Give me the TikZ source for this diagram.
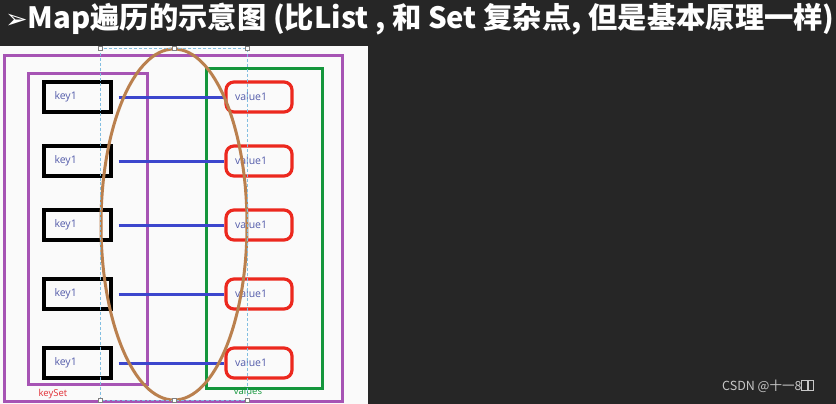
\documentclass[tikz,border=0pt]{standalone}
\usepackage{fontspec}
\setsansfont{Open Sans}
\newfontfamily\cjk{Noto Sans CJK SC}
\newfontfamily\symb{DejaVu Sans}
\usetikzlibrary{shapes.geometric}
\definecolor{board}{RGB}{38,38,38}
\definecolor{paper}{RGB}{250,250,250}
\definecolor{mapviolet}{RGB}{166,84,180}
\definecolor{valgreen}{RGB}{20,150,60}
\definecolor{valred}{RGB}{236,40,30}
\definecolor{inkblue}{RGB}{84,92,170}
\definecolor{linkblue}{RGB}{60,70,205}
\definecolor{loopbrown}{RGB}{186,128,78}
\definecolor{guide}{RGB}{130,190,225}
\newcommand{\tofu}{{\setlength{\fboxrule}{0.6bp}\setlength{\fboxsep}{0pt}\fbox{\rule{0pt}{10bp}\hspace{5bp}}}}

\begin{document}
\begin{tikzpicture}[
  keybox/.style={draw, line width=3.4bp, minimum width=67bp, minimum height=30bp,
    text width=46bp, align=left, inner xsep=6bp, text=inkblue, font=\sffamily\fontsize{10.5bp}{12bp}\selectfont},
  valbox/.style={draw=valred, line width=3.2bp, rounded corners=8bp, minimum width=66bp, minimum height=30bp,
    text width=48bp, align=left, inner xsep=7bp, text=inkblue, font=\sffamily\fontsize{10.5bp}{12bp}\selectfont},
  frame/.style={draw, line width=3bp, minimum width=#1},
  link/.style={linkblue, line width=3bp, shorten <=6bp},
  handle/.style={draw=gray, fill=white, line width=0.5bp, minimum size=4bp, inner sep=0pt}
]
\useasboundingbox (0,0) rectangle (836bp,-404bp);
\fill [board] (0,0) rectangle (836bp,-404bp);
\fill [paper] (0,-46bp) rectangle (368bp,-404bp);

\node (title) at (5bp,-19bp)[anchor=west, text=white, inner sep=0pt] {\fontsize{29.3bp}{32bp}\selectfont{\symb\fontsize{27bp}{29bp}\selectfont ➢}\cjk\bfseries Map遍历的示意图 (比List , 和 Set 复杂点, 但是基本原理一样)};

\node (map) at (173bp,-228bp)[frame=338bp, draw=mapviolet, minimum height=346bp] {};
\node (keyset) at (87.5bp,-228.5bp)[frame=119bp, draw=mapviolet, minimum height=311bp] {};
\node (values) at (264bp,-228bp)[frame=116bp, draw=valgreen, minimum height=320bp] {};

\foreach \i/\y in {1/97,2/161,3/225,4/294,5/363}{
  \node (k\i) at (77.5bp,-\y bp)[keybox] {key1};
  \node (v\i) at (259bp,-\y bp)[valbox] {value1};
  \draw [link] (k\i) -- (v\i);
}

\node (keysetlabel) at (53bp,-394bp)[text=valred!85!mapviolet, font=\sffamily\fontsize{9.5bp}{11bp}\selectfont] {keySet};
\node (valueslabel) at (248bp,-391bp)[text=valgreen, font=\sffamily\fontsize{9.5bp}{11bp}\selectfont] {values};

\node (loop) at (174bp,-224.5bp)[ellipse, draw=loopbrown, line width=3bp, minimum width=146bp, minimum height=351bp] {};

% selection guides round the loop
\draw [guide, densely dashed, line width=0.6bp] (100bp,-48bp) rectangle (247bp,-400bp);
\foreach \n/\x/\y in {1/100/48,2/174/48,3/247/48,4/100/400,5/174/400,6/247/400}
  \node (h\n) at (\x bp,-\y bp)[handle] {};

\node (mark) at (768bp,-386bp)[text=white!78!black, font=\cjk\fontsize{12.5bp}{14bp}\selectfont] {CSDN @十一8\tofu\tofu};
\end{tikzpicture}
\end{document}
